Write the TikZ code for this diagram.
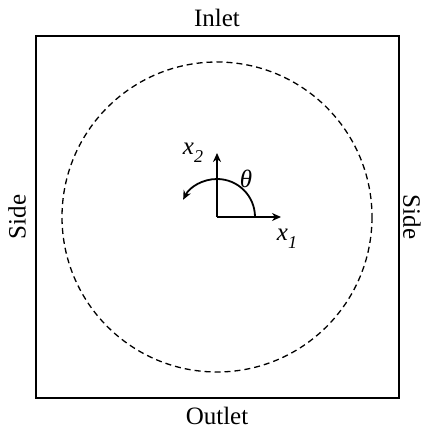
\documentclass[tikz,border=0pt]{standalone}
\usepackage{fontspec}
\setmainfont{Liberation Serif}
\usetikzlibrary{arrows.meta}
\begin{document}
\begin{tikzpicture}[x=1pt,y=-1pt,
  lbl/.style={font=\fontsize{25}{28}\selectfont, inner sep=0pt},
  axlbl/.style={font=\fontsize{25}{28}\selectfont\itshape, inner sep=0pt},
  ax/.style={line width=1.8pt, -{Stealth[length=9pt,width=8pt]}}]
\useasboundingbox (0,0) rectangle (423,430);
\node[draw, line width=1.8pt, minimum width=363pt, minimum height=362pt, inner sep=0pt] (box) at (217.5,217) {};
\draw[line width=1.3pt, dash pattern=on 6pt off 4pt] (217,217) circle[radius=155];
\coordinate (o) at (217,217);
\coordinate (e1) at (281,217);
\coordinate (e2) at (217,153);
\draw[ax] (o) -- (e1);
\draw[ax] (o) -- (e2);
\draw[ax] (255,217) arc[start angle=0, end angle=-153, x radius=38, y radius=38];
\node[axlbl] (l2) at (193,153) {x\raisebox{-0.3em}{\fontsize{18}{20}\selectfont 2}};
\node[axlbl] (th) at (246,179) {θ};
\node[axlbl] (l1) at (287,239) {x\raisebox{-0.3em}{\fontsize{18}{20}\selectfont 1}};
\node[lbl] (in) at (217,18) {Inlet};
\node[lbl] (out) at (217,416) {Outlet};
\node[lbl, rotate=90] (sl) at (17,217) {Side};
\node[lbl, rotate=-90] (sr) at (412,217) {Side};
\end{tikzpicture}
\end{document}
